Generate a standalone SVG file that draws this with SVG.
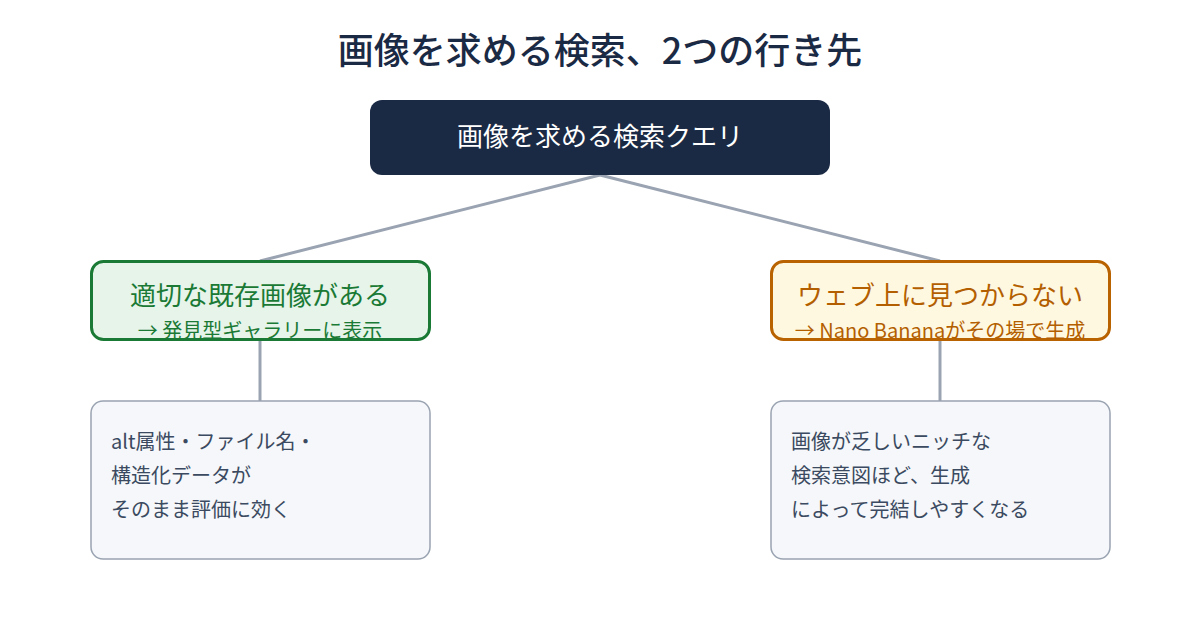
<svg xmlns="http://www.w3.org/2000/svg" width="1200" height="630" viewBox="0 0 1200 630">
<style>
text{font-family:"Noto Sans CJK JP","Noto Sans",sans-serif;}
.title{font-size:36px;font-weight:500;fill:#1b2a44;text-anchor:middle;}
.root-t{font-size:26px;font-weight:400;fill:#ffffff;text-anchor:middle;}
.main{font-size:26px;font-weight:400;text-anchor:middle;}
.sub{font-size:20px;font-weight:400;text-anchor:middle;}
.det{font-size:20px;font-weight:400;fill:#3b4a60;}
.conn{stroke:#9aa3b1;stroke-width:3;fill:none;}
.detbox{fill:#f5f7fa;stroke:#9aa3b1;stroke-width:1.5;}
</style>
<rect width="1200" height="630" fill="#ffffff"/>
<text class="title" x="600" y="64">画像を求める検索、2つの行き先</text>
<g id="connectors">
<line class="conn" x1="600" y1="175" x2="260" y2="261"/>
<line class="conn" x1="600" y1="175" x2="940" y2="261"/>
<line class="conn" x1="260" y1="340" x2="260" y2="401"/>
<line class="conn" x1="940" y1="340" x2="940" y2="401"/>
</g>
<g id="root">
<rect x="370" y="100" width="460" height="75" rx="12" fill="#1b2a44"/>
<text class="root-t" x="600" y="146">画像を求める検索クエリ</text>
</g>
<g id="existing">
<rect x="91.5" y="261.5" width="338" height="78" rx="12" fill="#e6f4ea" stroke="#1a7a35" stroke-width="3"/>
<text class="main" x="260" y="305" fill="#1a7a35">適切な既存画像がある</text>
<text class="sub" x="260" y="338" fill="#1a7a35">→ 発見型ギャラリーに表示</text>
</g>
<g id="notfound">
<rect x="771.5" y="261.5" width="338" height="78" rx="12" fill="#fff8e1" stroke="#b86200" stroke-width="3"/>
<text class="main" x="940" y="305" fill="#b35f00">ウェブ上に見つからない</text>
<text class="sub" x="940" y="338" fill="#b35f00">→ Nano Bananaがその場で生成</text>
</g>
<g id="detail-left">
<rect class="detbox" x="91" y="401" width="339" height="158" rx="12"/>
<text class="det" x="111" y="449">alt属性・ファイル名・</text>
<text class="det" x="111" y="483">構造化データが</text>
<text class="det" x="111" y="517">そのまま評価に効く</text>
</g>
<g id="detail-right">
<rect class="detbox" x="771" y="401" width="339" height="158" rx="12"/>
<text class="det" x="791" y="449">画像が乏しいニッチな</text>
<text class="det" x="791" y="483">検索意図ほど、生成</text>
<text class="det" x="791" y="517">によって完結しやすくなる</text>
</g>
</svg>
